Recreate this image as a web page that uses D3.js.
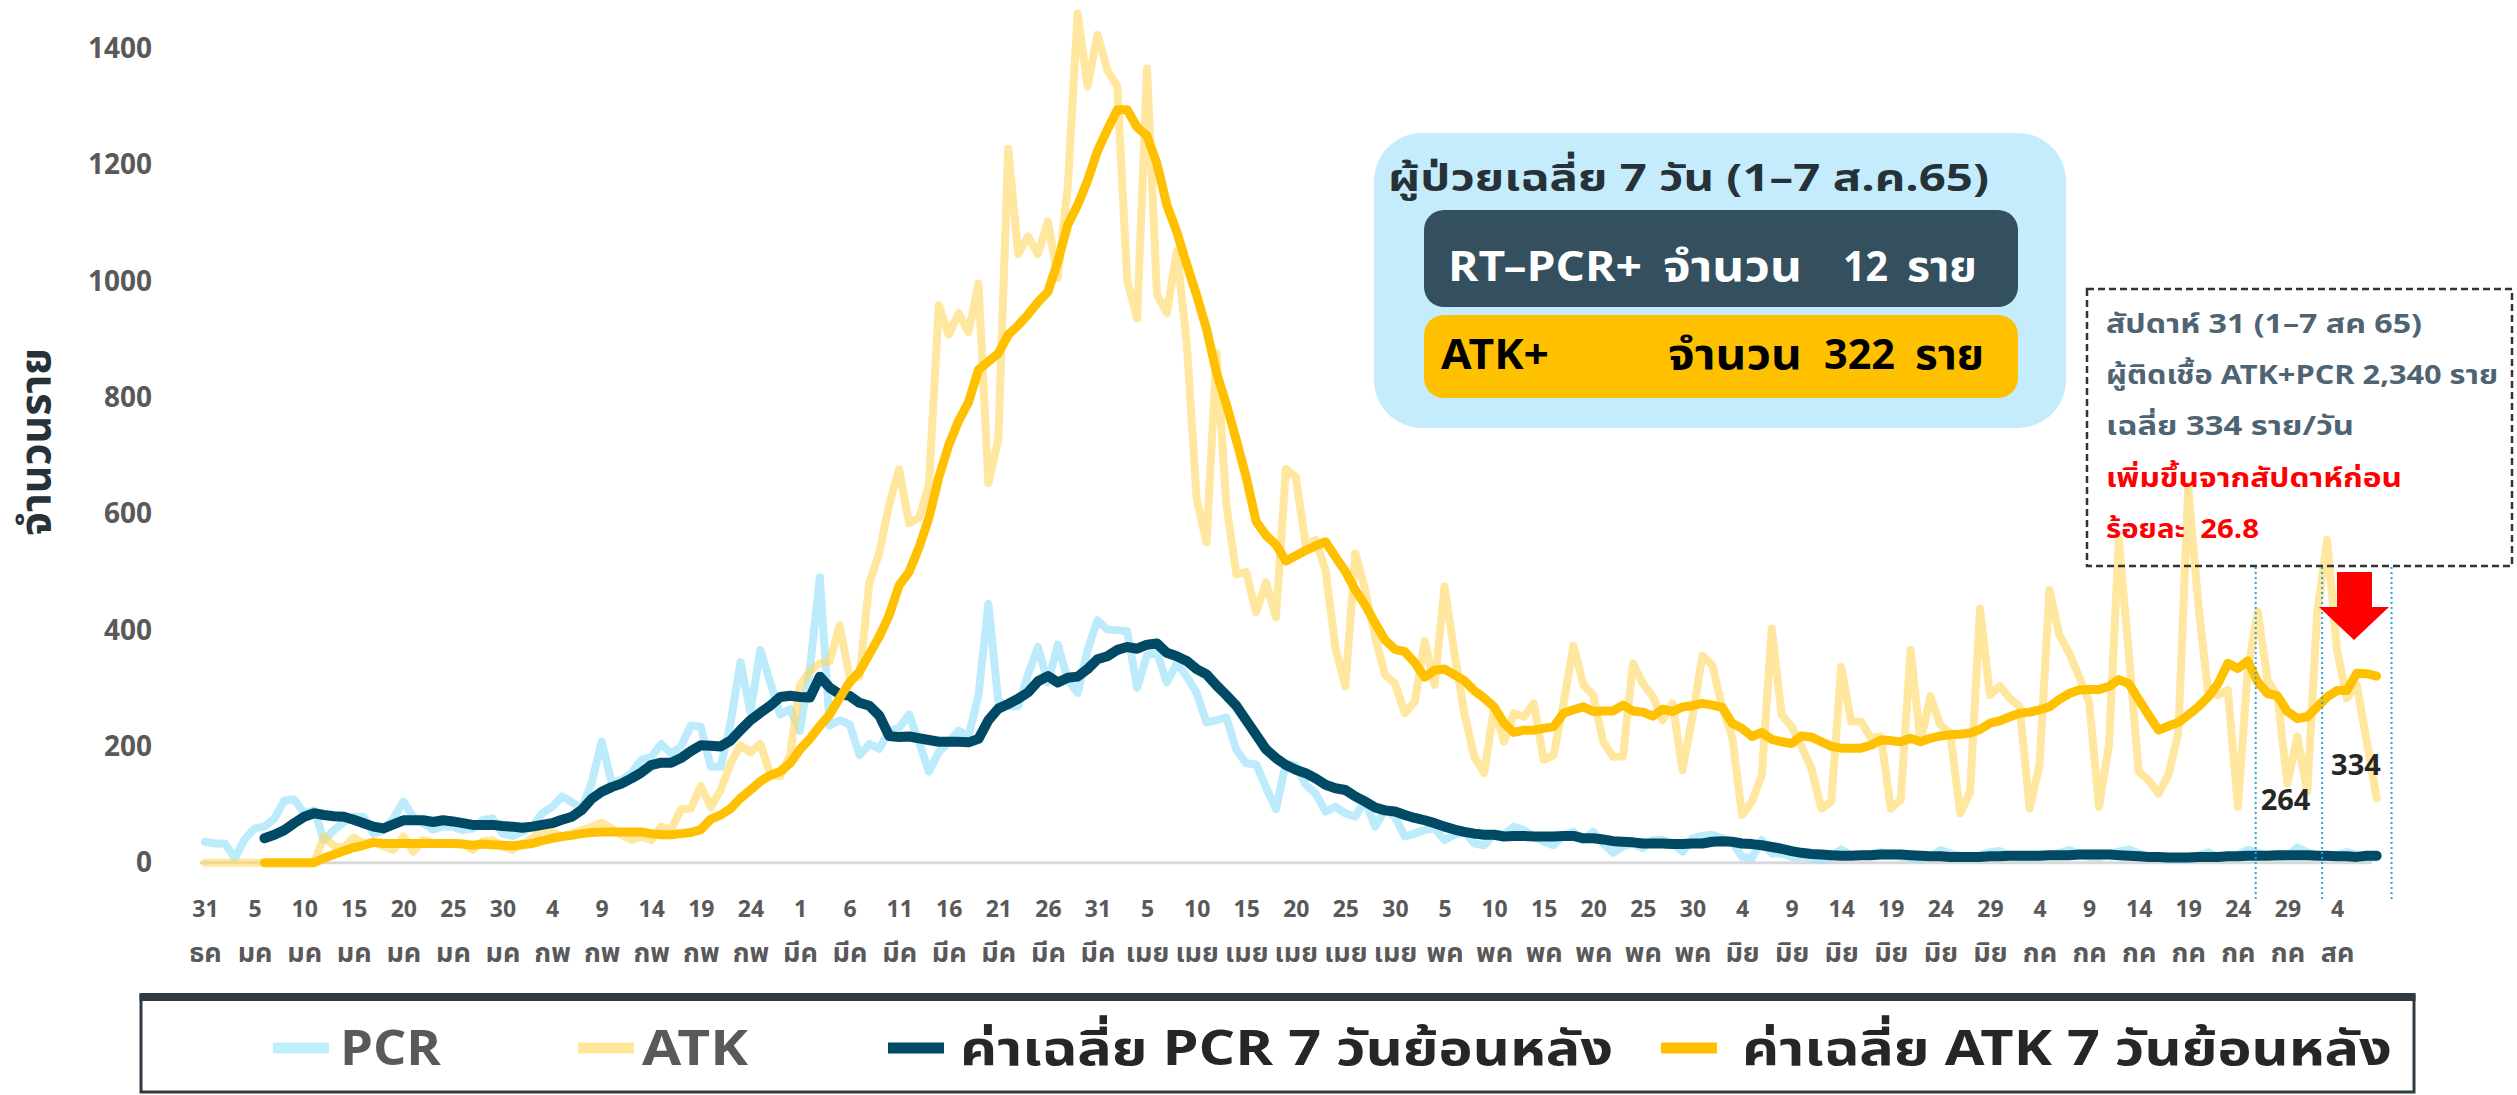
<!DOCTYPE html>
<html>
<head>
<meta charset="utf-8">
<script src="https://cdn.jsdelivr.net/npm/d3@7"></script>
<style>
  body { margin: 0; background: #fff; }
  svg text { font-family: "Noto Sans Thai", "Noto Sans Thai UI", "Sarabun", "Loma", "Garuda", "Liberation Sans", "DejaVu Sans", sans-serif; font-weight: bold; }
</style>
</head>
<body>
<svg id="chart"></svg>
<script>
// Set up conventions
let width = 2517;
let height = 1095;

// x tick labels (one every 5 days, starting 31 Dec)
let tickDays = ["31","5","10","15","20","25","30","4","9","14","19","24","1","6","11","16","21","26","31",
  "5","10","15","20","25","30","5","10","15","20","25","30","4","9","14","19","24","29",
  "4","9","14","19","24","29","4"];
let tickMonths = ["ธค","มค","มค","มค","มค","มค","มค","กพ","กพ","กพ","กพ","กพ",
  "มีค","มีค","มีค","มีค","มีค","มีค","มีค","เมย","เมย","เมย","เมย","เมย","เมย",
  "พค","พค","พค","พค","พค","พค","มิย","มิย","มิย","มิย","มิย","มิย",
  "กค","กค","กค","กค","กค","กค","สค"];
let yTicks = [0, 200, 400, 600, 800, 1000, 1200, 1400];

// daily PCR positives
let pcrDaily = [36,33,33,8,40,59,62,76,107,109,85,90,39,56,70,79,79,50,56,76,105,79,68,57,62,62,56,59,73,76,
  50,46,53,62,85,96,114,104,93,138,208,139,142,154,177,182,204,188,200,236,234,165,165,240,345,
  259,366,310,255,264,227,333,491,236,245,238,185,204,196,227,232,255,208,157,190,208,227,218,287,445,
  278,269,269,324,371,310,375,315,292,366,417,401,400,398,301,357,361,310,343,320,292,241,245,250,194,
  171,169,130,92,171,167,134,
  119,88,96,85,79,108,62,91,79,45,50,56,59,39,48,53,33,30,50,48,62,56,45,36,30,48,53,39,53,33,
  17,28,33,25,39,39,33,19,42,46,48,42,36,10,8,39,16,16,10,10,8,4,10,23,13,
  12,15,18,14,10,8,6,10,22,16,12,9,13,18,20,12,8,7,10,12,17,22,14,10,9,15,19,23,16,10,8,6,5,7,12,
  18,10,9,14,22,17,12,9,11,26,18,13,10,14,18,14,8,9];

// daily ATK positives
let atkDaily = [0,0,0,0,0,0,0,0,0,0,0,0,
  45,29,26,43,33,36,28,22,45,19,39,34,33,33,33,22,37,39,28,22,33,42,56,53,45,50,56,62,69,59,48,39,45,
  39,62,57,92,93,132,96,125,171,202,
  190,204,153,148,185,306,329,343,347,408,320,320,482,533,616,677,584,593,649,959,908,945,913,996,653,
  728,1228,1047,1077,1047,1103,1006,1163,1460,1335,1424,1363,1335,1001,936,1366,978,945,1052,894,626,
  551,876,616,496,500,431,482,422,677,663,547,
  555,503,369,303,532,469,389,323,308,257,277,381,306,475,360,257,182,154,268,208,257,251,274,177,185,
  274,373,306,288,208,182,183,343,308,286,245,274,159,251,356,340,268,217,82,105,151,403,254,234,200,
  162,93,105,337,243,
  243,214,217,93,108,366,208,286,237,223,85,122,437,288,304,283,268,93,168,469,392,360,320,277,96,
  202,555,360,157,142,119,151,223,647,446,294,288,297,96,331,432,314,286,136,217,122,429,555,366,283,
  306,208,111];

// 7-day average PCR
let pcrAvg = [null,null,null,null,null,null,
  42,48,56,68,79,85,82,80,79,74,68,62,59,66,73,73,73,70,73,71,68,65,65,65,63,62,60,62,65,68,74,79,91,
  110,122,130,136,145,155,168,172,172,180,192,202,201,200,210,228,
  245,258,270,285,287,285,284,320,301,290,287,275,270,253,218,216,217,214,211,208,208,208,207,213,245,
  265,273,282,293,312,321,310,318,320,333,350,355,366,371,368,375,377,361,355,347,333,324,305,288,270,
  245,220,195,180,168,160,154,
  145,134,128,125,114,105,95,90,88,82,77,73,68,62,57,53,50,48,48,45,46,46,45,45,45,46,46,42,42,40,
  37,36,35,33,33,33,32,32,33,33,36,37,36,33,32,30,27,24,20,17,15,14,13,12,12,
  13,13,14,14,14,13,12,11,11,10,10,10,10,11,11,12,12,12,12,13,13,13,14,14,14,14,13,12,11,10,10,9,9,9,
  10,10,10,11,11,12,12,12,13,13,13,13,12,12,11,11,10,12,12];

// 7-day average ATK
let atkAvg = [null,null,null,null,null,null,
  0,0,0,0,0,0,8,14,20,26,30,35,33,33,33,33,33,33,33,33,32,30,32,31,30,29,31,33,38,42,45,47,50,52,53,
  53,53,53,53,50,48,48,50,52,57,75,82,93,111,
  125,140,150,157,171,195,213,235,255,283,310,329,359,389,426,477,500,542,593,663,718,760,792,848,862,
  876,908,924,943,964,982,1034,1097,1131,1173,1224,1261,1295,1295,1265,1250,1202,1131,1085,1029,976,
  918,843,788,727,663,587,563,547,519,528,537,
  545,552,526,501,469,443,412,383,367,363,344,319,331,333,323,313,296,283,268,240,224,228,228,231,234,
  257,263,268,260,261,261,271,261,259,252,264,260,268,270,274,271,267,240,231,217,224,212,208,205,218,
  216,208,200,197,197,
  197,202,211,210,208,214,208,214,218,220,221,223,229,240,244,251,257,259,263,268,281,291,297,298,298,
  303,315,308,281,254,228,235,241,254,268,285,308,343,334,347,311,291,287,260,248,251,268,285,296,296,
  326,325,321];

// week boundaries (day index) and weekly averages
let weekMarks = [206.8, 213.5, 220.5];
let weekLabels = ["264", "334"];

let svg = d3.select("#chart")
  .attr("width", width)
  .attr("height", height);

let x = d3.scaleLinear().domain([0, 215]).range([205, 2337]);
let y = d3.scaleLinear().domain([0, 1400]).range([862.7, 48.7]);

// y axis
let yAxis = d3.axisLeft(y).tickValues(yTicks).tickSize(0).tickPadding(0).tickFormat(d3.format("d"));
let gy = svg.append("g")
  .attr("transform", "translate(152,0)")
  .call(yAxis);
gy.select(".domain").remove();
gy.selectAll("text")
  .attr("font-size", 28)
  .attr("fill", "#595959");

svg.append("text")
  .attr("transform", "translate(50,442) rotate(-90)")
  .attr("text-anchor", "middle")
  .attr("font-size", 43)
  .attr("fill", "#263238")
  .text("จำนวนราย");

// baseline
svg.append("line")
  .attr("x1", x(-0.5)).attr("x2", x(218.5))
  .attr("y1", y(0)).attr("y2", y(0))
  .attr("stroke", "#d9d9d9")
  .attr("stroke-width", 3);

// x axis, two rows of labels
let tickIdx = tickDays.map((d, i) => i * 5);
let xAxis = d3.axisBottom(x).tickValues(tickIdx).tickSize(0).tickFormat((d, i) => tickDays[i]);
let gx = svg.append("g")
  .attr("transform", "translate(0," + y(0) + ")")
  .call(xAxis);
gx.select(".domain").remove();
gx.selectAll("text")
  .attr("y", 46)
  .attr("dy", "0.35em")
  .attr("font-size", 23)
  .attr("fill", "#595959");
gx.selectAll(".tick").append("text")
  .attr("y", 90)
  .attr("dy", "0.35em")
  .attr("font-size", 27)
  .attr("fill", "#595959")
  .text((d, i) => tickMonths[i]);

// lines
let line = d3.line()
  .defined(d => d != null)
  .x((d, i) => x(i))
  .y(d => y(d));

let series = [
  {data: pcrDaily, color: "#9fe3fb", width: 8, opacity: 0.7},
  {data: atkDaily, color: "#ffd966", width: 8, opacity: 0.62},
  {data: pcrAvg, color: "#004a66", width: 10, opacity: 1},
  {data: atkAvg, color: "#ffc000", width: 9, opacity: 1}
];

svg.selectAll(".series")
  .data(series)
  .enter()
  .append("path")
  .attr("class", "series")
  .attr("d", s => line(s.data))
  .attr("fill", "none")
  .attr("stroke", s => s.color)
  .attr("stroke-width", s => s.width)
  .attr("stroke-opacity", s => s.opacity)
  .attr("stroke-linejoin", "round")
  .attr("stroke-linecap", "round");

// week markers
svg.selectAll(".week")
  .data(weekMarks)
  .enter()
  .append("line")
  .attr("x1", d => x(d)).attr("x2", d => x(d))
  .attr("y1", 567).attr("y2", 900)
  .attr("stroke", "#2ea3db")
  .attr("stroke-width", 2)
  .attr("stroke-dasharray", "2,3");

svg.append("text")
  .attr("x", x(207.3)).attr("y", 810)
  .attr("font-size", 29).attr("fill", "#262626")
  .text(weekLabels[0]);
svg.append("text")
  .attr("x", x(214.4)).attr("y", 775)
  .attr("font-size", 29).attr("fill", "#262626")
  .text(weekLabels[1]);

// red arrow
svg.append("path")
  .attr("d", "M2337,572 H2372 V607 H2389 L2354,640 L2319,607 H2337 Z")
  .attr("fill", "#ff0000");

// summary box
svg.append("rect")
  .attr("x", 1374).attr("y", 133)
  .attr("width", 692).attr("height", 295)
  .attr("rx", 48)
  .attr("fill", "#c4ecfd");
svg.append("text")
  .attr("x", 1388).attr("y", 191)
  .attr("font-size", 38).attr("fill", "#263238")
  .attr("textLength", 601).attr("lengthAdjust", "spacingAndGlyphs")
  .text("ผู้ป่วยเฉลี่ย 7 วัน (1–7 ส.ค.65)");

svg.append("rect")
  .attr("x", 1424).attr("y", 210)
  .attr("width", 594).attr("height", 97)
  .attr("rx", 20)
  .attr("fill", "#34505f");
let pcrRow = [["RT–PCR+", 1448, 194], ["จำนวน", 1663, 139], ["12", 1843, 45], ["ราย", 1907, 70]];
svg.selectAll(".pcrrow")
  .data(pcrRow)
  .enter()
  .append("text")
  .attr("x", d => d[1]).attr("y", 281)
  .attr("font-size", 42).attr("fill", "#ffffff")
  .attr("textLength", d => d[2]).attr("lengthAdjust", "spacingAndGlyphs")
  .text(d => d[0]);

svg.append("rect")
  .attr("x", 1424).attr("y", 315)
  .attr("width", 594).attr("height", 83)
  .attr("rx", 20)
  .attr("fill", "#ffc000");
let atkRow = [["ATK+", 1441, 108], ["จำนวน", 1668, 134], ["322", 1824, 71], ["ราย", 1915, 69]];
svg.selectAll(".atkrow")
  .data(atkRow)
  .enter()
  .append("text")
  .attr("x", d => d[1]).attr("y", 369)
  .attr("font-size", 42).attr("fill", "#000000")
  .attr("textLength", d => d[2]).attr("lengthAdjust", "spacingAndGlyphs")
  .text(d => d[0]);

// weekly note (dashed box)
svg.append("rect")
  .attr("x", 2087).attr("y", 289)
  .attr("width", 425).attr("height", 277)
  .attr("fill", "none")
  .attr("stroke", "#333")
  .attr("stroke-width", 2.5)
  .attr("stroke-dasharray", "7,4");
let noteLines = [
  ["สัปดาห์ 31 (1–7 สค 65)", "#4f6472", 316],
  ["ผู้ติดเชื้อ ATK+PCR 2,340 ราย", "#4f6472", 392],
  ["เฉลี่ย 334 ราย/วัน", "#4f6472", 248],
  ["เพิ่มขึ้นจากสัปดาห์ก่อน", "#ff0000", 296],
  ["ร้อยละ  26.8", "#ff0000", 153]
];
svg.selectAll(".note")
  .data(noteLines)
  .enter()
  .append("text")
  .attr("x", 2106)
  .attr("y", (d, i) => 333 + i * 51.2)
  .attr("font-size", 26)
  .attr("fill", d => d[1])
  .attr("textLength", d => d[2]).attr("lengthAdjust", "spacingAndGlyphs")
  .style("white-space", "pre")
  .text(d => d[0]);

// legend
svg.append("rect")
  .attr("x", 141).attr("y", 996)
  .attr("width", 2273).attr("height", 96)
  .attr("fill", "none")
  .attr("stroke", "#2f3b40")
  .attr("stroke-width", 3);
svg.append("rect")
  .attr("x", 139.5).attr("y", 993)
  .attr("width", 2276).attr("height", 8)
  .attr("fill", "#2f3b40");

let legendItems = [
  {label: "PCR", color: "#bfeefd", x0: 273, tx: 340, len: 101, fill: "#595959"},
  {label: "ATK", color: "#ffe699", x0: 578, tx: 642, len: 106, fill: "#595959"},
  {label: "ค่าเฉลี่ย PCR 7 วันย้อนหลัง", color: "#004a66", x0: 888, tx: 960, len: 653, fill: "#262626"},
  {label: "ค่าเฉลี่ย ATK 7 วันย้อนหลัง", color: "#ffc000", x0: 1661, tx: 1742, len: 650, fill: "#262626"}
];
let lg = svg.selectAll(".legend")
  .data(legendItems)
  .enter()
  .append("g");
lg.append("line")
  .attr("x1", d => d.x0).attr("x2", d => d.x0 + 56)
  .attr("y1", 1048).attr("y2", 1048)
  .attr("stroke", d => d.color)
  .attr("stroke-width", 11);
lg.append("text")
  .attr("x", d => d.tx).attr("y", 1048)
  .attr("dy", "0.35em")
  .attr("font-size", 48)
  .attr("fill", d => d.fill)
  .attr("textLength", d => d.len).attr("lengthAdjust", "spacingAndGlyphs")
  .text(d => d.label);
</script>
</body>
</html>
